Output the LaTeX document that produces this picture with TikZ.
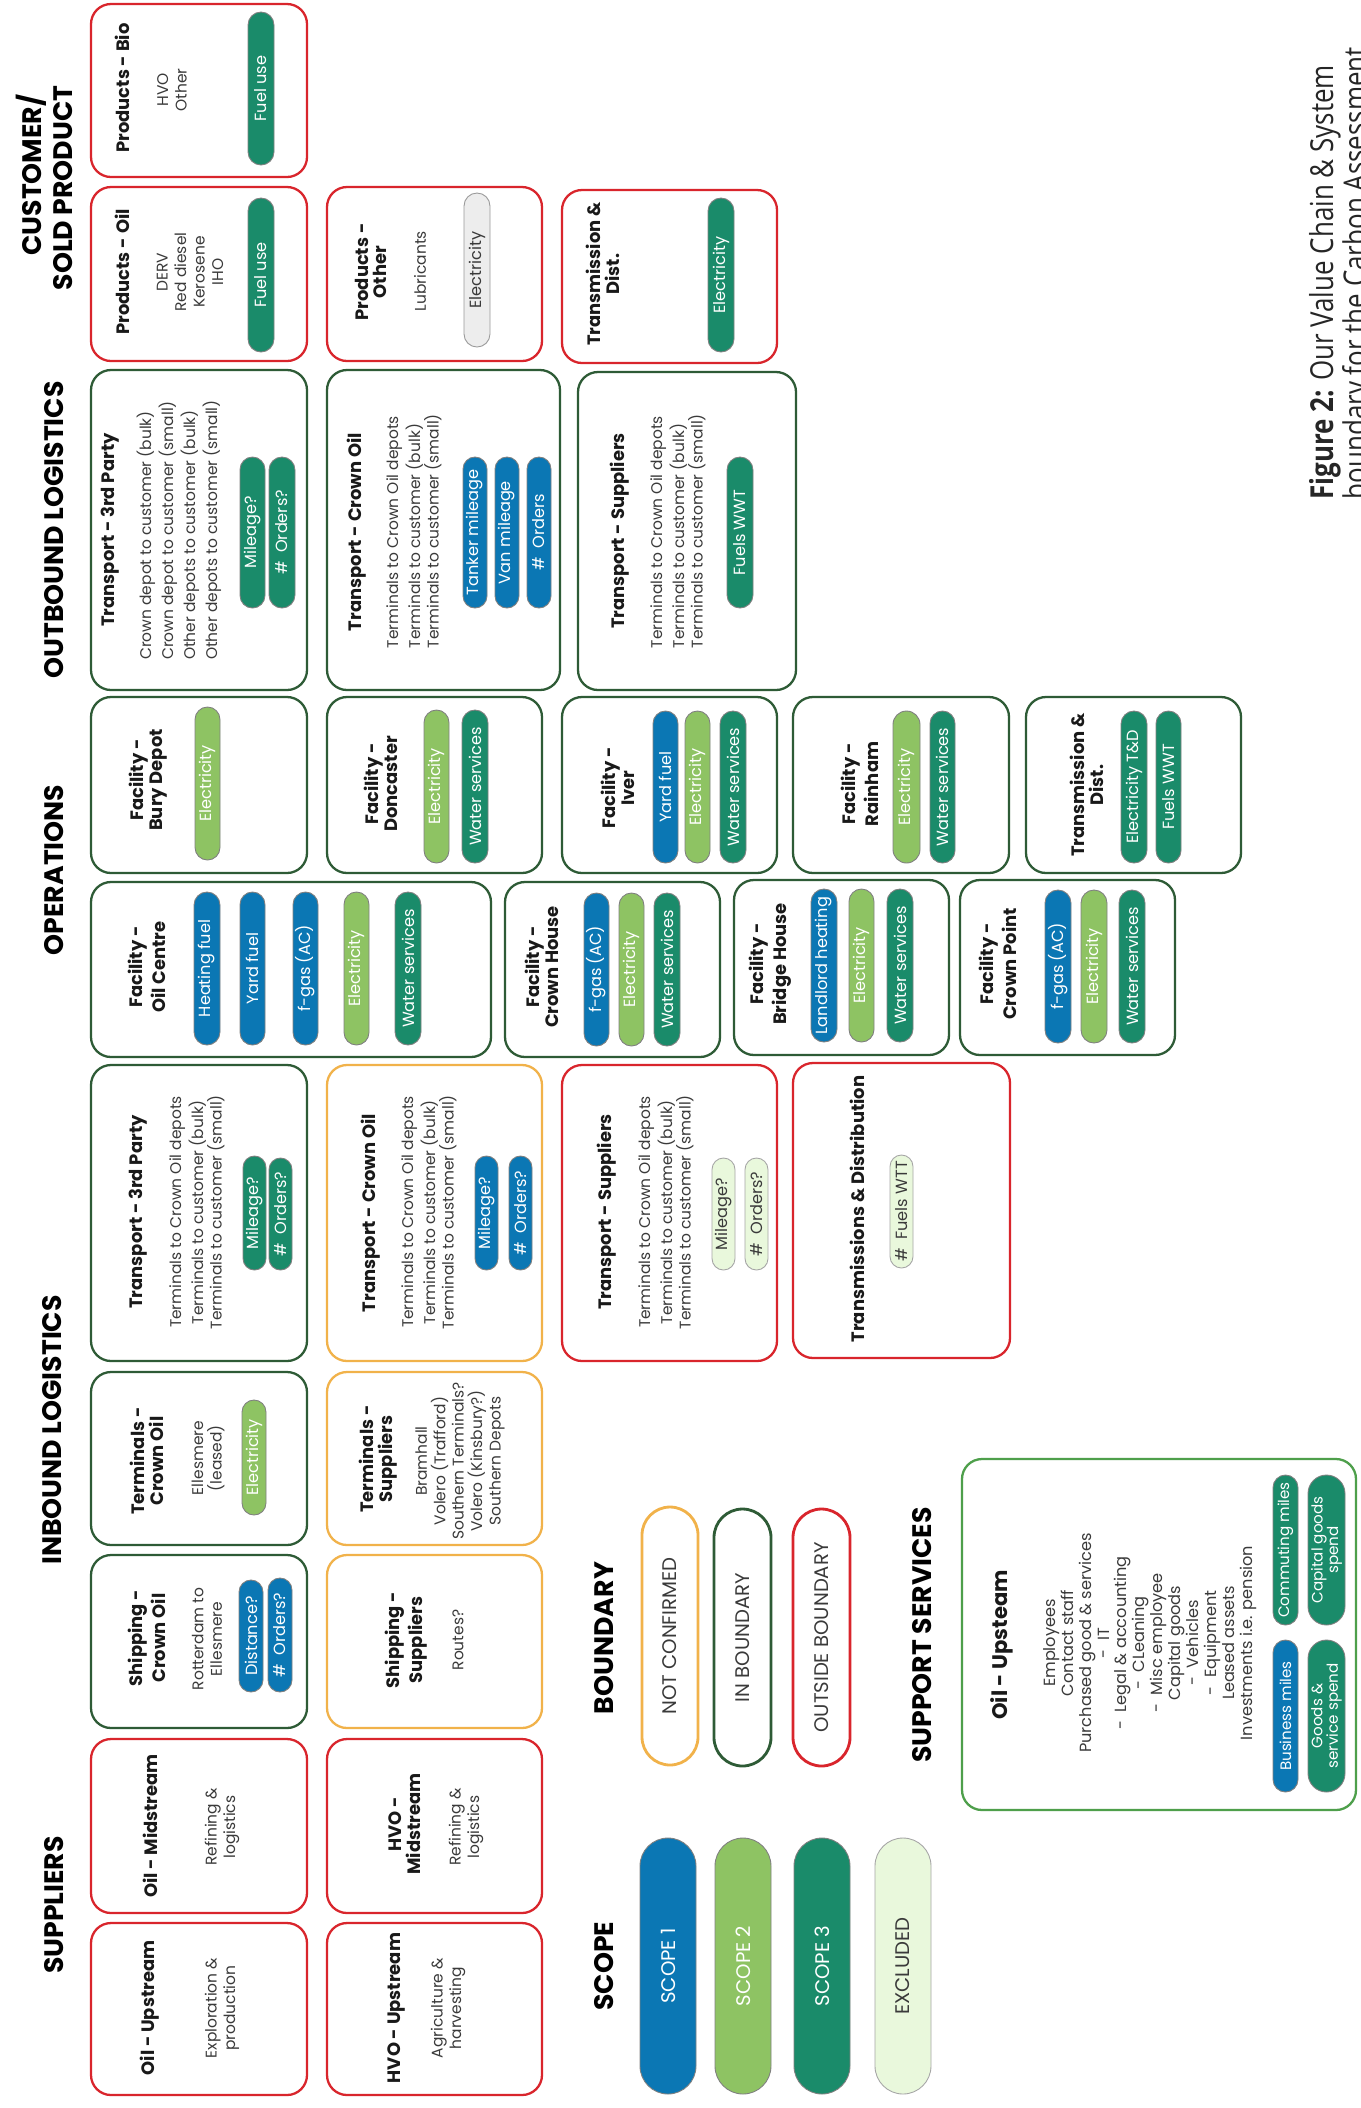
\documentclass[tikz,border=0pt]{standalone}
\usepackage{fontspec}
\setmainfont{Poppins}
\newfontfamily\capfont[FakeStretch=0.82]{Open Sans}
\definecolor{cred}{HTML}{D9252C}
\definecolor{cdg}{HTML}{2E5B36}
\definecolor{cor}{HTML}{F1B24A}
\definecolor{csup}{HTML}{4E9F4B}
\definecolor{pblue}{HTML}{0B77B4}
\definecolor{plg}{HTML}{8EC363}
\definecolor{pdg}{HTML}{1A8B6A}
\definecolor{pex}{HTML}{E9F8DC}
\definecolor{pgr}{HTML}{EDEDED}
\definecolor{tgr}{HTML}{3A3A3A}
\newcommand\hdfont{\fontsize{7.6}{9}\selectfont\bfseries}
\newcommand\ttfont{\fontsize{5.1}{5.3}\selectfont\bfseries}
\newcommand\bdfont{\fontsize{4.4}{5.25}\selectfont}
\newcommand\plfont{\fontsize{4.6}{4.6}\selectfont}
\newcommand\lpfont{\fontsize{5.6}{6}\selectfont}
\tikzset{
  bx/.style={draw=#1, line width=0.65pt, rounded corners=0.2cm, inner sep=0pt},
  hd/.style={rotate=90, font=\hdfont, inner sep=0pt, text=black},
  tt/.style={rotate=90, font=\ttfont, align=center, inner sep=0pt, text=black!90},
  bd/.style={rotate=90, font=\bdfont, align=center, inner sep=0pt, text=tgr},
  pl/.style={rotate=90, fill=#1, draw=black!50, line width=0.25pt, inner sep=0pt, font=\plfont, text=white, align=center},
  plx/.style={pl=pex, text=tgr, draw=black!35},
  plgr/.style={pl=pgr, text=tgr, draw=black!40},
  lp/.style={pl=#1, font=\lpfont},
  lpx/.style={lp=pex, text=tgr, draw=black!35},
  lo/.style={rotate=90, fill=white, draw=#1, line width=0.8pt, inner sep=0pt, font=\lpfont, text=tgr},
  capn/.style={rotate=90, font=\capfont\fontsize{9}{10}\selectfont, inner sep=0pt, anchor=west, text=black!85}
}
\newcommand\bx[6]{\node[bx=#2, minimum width={(#5-#3)*0.01cm}, minimum height={(#6-#4)*0.01cm}] (#1) at ({(#3+#5)/2},{(#4+#6)/2}) {};}
\newcommand\pil[7]{\node[#2, minimum width={(#6-#4)*0.01cm}, minimum height={(#5-#3)*0.01cm}, rounded corners={(#5-#3)*0.005cm}] (#1) at ({(#3+#5)/2},{(#4+#6)/2}) {#7};}
\begin{document}
\begin{tikzpicture}[x=0.01cm,y=-0.01cm]
\fill[white] (0,0) rectangle (1361,2108);
\useasboundingbox (0,0) rectangle (1361,2108);
% headers
\node[hd] (hSup) at (54,1905) {SUPPLIERS};
\node[hd] (hIn) at (52,1430) {INBOUND LOGISTICS};
\node[hd] (hOp) at (54,870) {OPERATIONS};
\node[hd] (hOut) at (54,530) {OUTBOUND LOGISTICS};
\node[hd] (hCu1) at (31,175) {CUSTOMER/};
\node[hd] (hCu2) at (63,188) {SOLD PRODUCT};
\node[hd] (hSc) at (604,1966) {SCOPE};
\node[hd] (hBo) at (604,1638) {BOUNDARY};
\node[hd] (hSS) at (922,1635) {SUPPORT SERVICES};
% boxes
\bx{oilUp}{cred}{91}{1923}{307}{2095}
\bx{oilMid}{cred}{91}{1739}{307}{1913}
\bx{hvoUp}{cred}{327}{1923}{542}{2095}
\bx{hvoMid}{cred}{327}{1739}{542}{1913}
\bx{shipCO}{cdg}{91}{1555}{307}{1728}
\bx{termCO}{cdg}{91}{1372}{307}{1545}
\bx{trIn3}{cdg}{91}{1065}{307}{1361}
\bx{shipSu}{cor}{327}{1555}{542}{1728}
\bx{termSu}{cor}{327}{1372}{542}{1545}
\bx{trInCO}{cor}{327}{1065}{542}{1361}
\bx{trInSu}{cred}{562}{1065}{777}{1361}
\bx{tdIn}{cred}{793}{1063}{1010}{1358}
\bx{fBury}{cdg}{91}{697}{307}{873}
\bx{fDon}{cdg}{327}{697}{542}{873}
\bx{fIver}{cdg}{562}{697}{777}{873}
\bx{fRain}{cdg}{793}{697}{1009}{873}
\bx{tdOp}{cdg}{1026}{697}{1241}{873}
\bx{fOil}{cdg}{91}{882}{491}{1057}
\bx{fCH}{cdg}{505}{882}{720}{1057}
\bx{fBH}{cdg}{734}{880}{949}{1055}
\bx{fCP}{cdg}{960}{880}{1175}{1055}
\bx{trOut3}{cdg}{91}{370}{307}{690}
\bx{trOutCO}{cdg}{327}{370}{560}{690}
\bx{trOutSu}{cdg}{578}{372}{796}{690}
\bx{pBio}{cred}{91}{4}{307}{177}
\bx{pOil}{cred}{91}{187}{307}{361}
\bx{pOth}{cred}{327}{187}{542}{361}
\bx{tdCu}{cred}{562}{190}{777}{363}
\bx{supp}{csup}{962}{1459}{1356}{1810}
% suppliers
\node[tt] (t1) at (150,2008) {Oil - Upstream};
\node[bd] (b1) at (222,2008) {Exploration \&\\production};
\node[tt] (t2) at (150,1826) {Oil - Midstream};
\node[bd] (b2) at (222,1827) {Refining \&\\logistics};
\node[tt] (t3) at (396,2008) {HVO - Upstream};
\node[bd] (b3) at (448,2008) {Agriculture \&\\harvesting};
\node[tt] (t4) at (405,1824) {HVO -\\Midstream};
\node[bd] (b4) at (466,1827) {Refining \&\\logistics};
% inbound
\node[tt] (t5) at (147,1638) {Shipping -\\Crown Oil};
\node[bd] (b5) at (207,1639) {Rotterdam to\\Ellesmere};
\pil{p5a}{pl=pblue}{239}{1580}{263}{1692}{Distance?}
\pil{p5b}{pl=pblue}{268}{1578}{292}{1692}{\#\ \ Orders?}
\node[tt] (t6) at (147,1461) {Terminals -\\Crown Oil};
\node[bd] (b6) at (208,1458) {Ellesmere\\(leased)};
\pil{p6a}{pl=plg}{242}{1400}{266}{1515}{Electricity}
\node[tt] (t7) at (138,1212) {Transport - 3rd Party};
\node[bd] (b7) at (197,1212) {Terminals to Crown Oil depots\\Terminals to customer (bulk)\\Terminals to customer (small)};
\pil{p7a}{pl=pdg}{243}{1156}{266}{1270}{Mileage?}
\pil{p7b}{pl=pdg}{269}{1158}{292}{1270}{\#\ \ Orders?}
\node[tt] (t8) at (406,1640) {Shipping -\\Suppliers};
\node[bd] (b8) at (458,1640) {Routes?};
\node[tt] (t9) at (378,1459) {Terminals -\\Suppliers};
\node[bd] (b9) at (460,1461) {Bramhall\\Volero (Trafford)\\Southern Terminals?\\Volero (Kinsbury?)\\Southern Depots};
\node[tt] (t10) at (371,1213) {Transport - Crown Oil};
\node[bd] (b10) at (429,1212) {Terminals to Crown Oil depots\\Terminals to customer (bulk)\\Terminals to customer (small)};
\pil{p10a}{pl=pblue}{475}{1156}{498}{1270}{Mileage?}
\pil{p10b}{pl=pblue}{509}{1156}{532}{1270}{\#\ \ Orders?}
\node[tt] (t11) at (607,1212) {Transport - Suppliers};
\node[bd] (b11) at (666,1212) {Terminals to Crown Oil depots\\Terminals to customer (bulk)\\Terminals to customer (small)};
\pil{p11a}{plx}{712}{1158}{735}{1270}{Mileage?}
\pil{p11b}{plx}{745}{1158}{768}{1270}{\#\ \ Orders?}
\node[tt] (t12) at (857,1209) {Transmissions \& Distribution};
\pil{p12a}{plx}{890}{1155}{913}{1268}{\#\ \ Fuels WTT}
% operations row 1
\node[tt] (t13) at (148,780) {Facility -\\Bury Depot};
\pil{p13a}{pl=plg}{195}{707}{220}{860}{Electricity}
\node[tt] (t14) at (381,784) {Facility -\\Doncaster};
\pil{p14a}{pl=plg}{424}{710}{449}{863}{Electricity}
\pil{p14b}{pl=pdg}{462}{710}{488}{863}{Water services}
\node[tt] (t15) at (618,788) {Facility -\\Iver};
\pil{p15a}{pl=pblue}{653}{711}{678}{863}{Yard fuel}
\pil{p15b}{pl=plg}{685}{711}{710}{863}{Electricity}
\pil{p15c}{pl=pdg}{720}{711}{746}{863}{Water services}
\node[tt] (t16) at (860,784) {Facility -\\Rainham};
\pil{p16a}{pl=plg}{893}{711}{920}{863}{Electricity}
\pil{p16b}{pl=pdg}{930}{711}{955}{863}{Water services}
\node[tt] (t17) at (1087,785) {Transmission \&\\Dist.};
\pil{p17a}{pl=pdg}{1121}{711}{1147}{863}{Electricity T\&D}
\pil{p17b}{pl=pdg}{1156}{711}{1181}{863}{Fuels WWT}
% operations row 2
\node[tt] (t18) at (147,967) {Facility -\\Oil Centre};
\pil{p18a}{pl=pblue}{194}{892}{220}{1045}{Heating fuel}
\pil{p18b}{pl=pblue}{240}{892}{265}{1045}{Yard fuel}
\pil{p18c}{pl=pblue}{293}{892}{318}{1045}{f-gas (AC)}
\pil{p18d}{pl=plg}{344}{892}{369}{1045}{Electricity}
\pil{p18e}{pl=pdg}{395}{892}{421}{1045}{Water services}
\node[tt] (t19) at (542,967) {Facility -\\Crown House};
\pil{p19a}{pl=pblue}{584}{893}{609}{1046}{f-gas (AC)}
\pil{p19b}{pl=plg}{619}{893}{644}{1046}{Electricity}
\pil{p19c}{pl=pdg}{654}{893}{680}{1046}{Water services}
\node[tt] (t20) at (770,964) {Facility -\\Bridge House};
\pil{p20a}{pl=pblue}{811}{889}{837}{1042}{Landlord heating}
\pil{p20b}{pl=plg}{849}{889}{874}{1042}{Electricity}
\pil{p20c}{pl=pdg}{887}{889}{913}{1042}{Water services}
\node[tt] (t21) at (998,964) {Facility -\\Crown Point};
\pil{p21a}{pl=pblue}{1045}{890}{1071}{1043}{f-gas (AC)}
\pil{p21b}{pl=plg}{1081}{890}{1107}{1043}{Electricity}
\pil{p21c}{pl=pdg}{1119}{890}{1145}{1043}{Water services}
% outbound
\node[tt] (t22) at (110,530) {Transport - 3rd Party};
\node[bd, align=left] (b22) at (179,530) {Crown depot to customer (bulk)\\Crown depot to customer (small)\\Other depots to customer (bulk)\\Other depots to customer (small)};
\pil{p22a}{pl=pdg}{240}{457}{265}{608}{Mileage?}
\pil{p22b}{pl=pdg}{269}{457}{295}{608}{\#\ \ Orders?}
\node[tt] (t23) at (357,532) {Transport - Crown Oil};
\node[bd, align=left] (b23) at (414,531) {Terminals to Crown Oil depots\\Terminals to customer (bulk)\\Terminals to customer (small)};
\pil{p23a}{pl=pblue}{463}{457}{487}{608}{Tanker mileage}
\pil{p23b}{pl=pblue}{495}{457}{519}{608}{Van mileage}
\pil{p23c}{pl=pblue}{527}{457}{551}{608}{\#\ \ Orders}
\node[tt] (t24) at (620,531) {Transport - Suppliers};
\node[bd, align=left] (b24) at (678,531) {Terminals to Crown Oil depots\\Terminals to customer (bulk)\\Terminals to customer (small)};
\pil{p24a}{pl=pdg}{727}{457}{753}{608}{Fuels WWT}
% customer
\node[tt] (t25) at (122,88) {Products - Bio};
\node[bd] (b25) at (172,90) {HVO\\Other};
\pil{p25a}{pl=pdg}{248}{12}{274}{165}{Fuel use}
\node[tt] (t26) at (122,272) {Products - Oil};
\node[bd] (b26) at (190,272) {DERV\\Red diesel\\Kerosene\\IHO};
\pil{p26a}{pl=pdg}{248}{198}{274}{352}{Fuel use}
\node[tt] (t27) at (371,272) {Products -\\Other};
\node[bd] (b27) at (420,271) {Lubricants};
\pil{p27a}{plgr}{464}{193}{490}{347}{Electricity}
\node[tt] (t28) at (603,274) {Transmission \&\\Dist.};
\pil{p28a}{pl=pdg}{708}{198}{734}{352}{Electricity}
% legend
\pil{s1}{lp=pblue}{640}{1838}{696}{2094}{SCOPE 1}
\pil{s2}{lp=plg}{715}{1838}{771}{2094}{SCOPE 2}
\pil{s3}{lp=pdg}{794}{1838}{850}{2094}{SCOPE 3}
\pil{s4}{lpx}{875}{1838}{931}{2094}{EXCLUDED}
\pil{bo1}{lo=cor}{642}{1507}{698}{1765}{NOT CONFIRMED}
\pil{bo2}{lo=cdg}{714}{1509}{771}{1766}{IN BOUNDARY}
\pil{bo3}{lo=cred}{793}{1509}{850}{1766}{OUTSIDE BOUNDARY}
% support services
\node[tt, font=\fontsize{6}{7}\selectfont\bfseries] (t29) at (1002,1645) {Oil - Upsteam};
\node[bd, font=\fontsize{4.6}{5.1}\selectfont] (b29) at (1150,1643) {Employees\\Contact staff\\Purchased good \& services\\- \ IT\\- \ Legal \& accounting\\- \ CLeaning\\- \ Misc employee\\Capital goods\\- \ Vehicles\\- \ Equipment\\Leased assets\\Investments i.e. pension};
\pil{p29a}{pl=pblue, font=\fontsize{4.3}{4.4}\selectfont}{1273}{1640}{1298}{1792}{Business miles}
\pil{p29b}{pl=pdg, font=\fontsize{4.3}{4.4}\selectfont}{1273}{1475}{1298}{1625}{Commuting miles}
\pil{p29c}{pl=pdg, font=\fontsize{4.3}{4.4}\selectfont}{1308}{1640}{1345}{1792}{Goods \&\\service spend}
\pil{p29d}{pl=pdg, font=\fontsize{4.3}{4.4}\selectfont}{1308}{1475}{1345}{1625}{Capital goods\\spend}
% caption
\node[capn] (cap1) at (1325,500) {\textbf{Figure 2:} Our Value Chain \& System};
\node[capn] (cap2) at (1358,500) {boundary for the Carbon Assessment};
\end{tikzpicture}
\end{document}
